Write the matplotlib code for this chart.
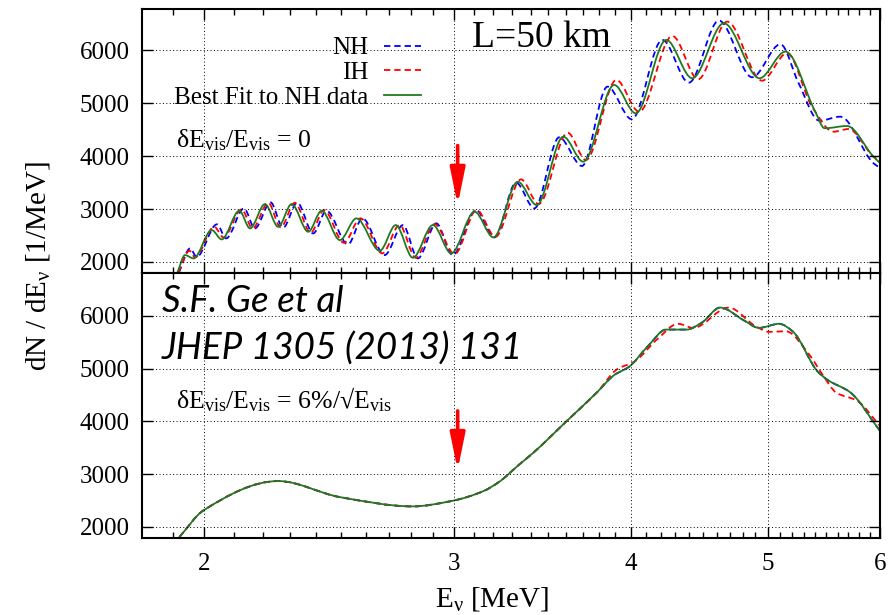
import numpy as np
import matplotlib
matplotlib.use("Agg")
import matplotlib.pyplot as plt
from matplotlib.path import Path
from matplotlib.patches import PathPatch
from matplotlib.lines import Line2D
from matplotlib.ticker import FixedLocator, NullFormatter, FuncFormatter

plt.rcParams['font.family'] = ['Liberation Serif', 'DejaVu Serif']
plt.rcParams['mathtext.fontset'] = 'custom'
plt.rcParams['mathtext.rm'] = 'Liberation Serif'
plt.rcParams['mathtext.it'] = 'Liberation Serif:italic'
plt.rcParams['mathtext.bf'] = 'Liberation Serif:bold'

# ---- top panel: no energy smearing (values read at peaks / troughs) ----
nh_top_e = [1.920, 1.955, 1.976, 2.042, 2.073, 2.134, 2.172, 2.228, 2.274, 2.327,
            2.388, 2.440, 2.527, 2.587, 2.682, 2.763, 2.831, 2.917, 2.996, 3.112,
            3.206, 3.321, 3.421, 3.562, 3.696, 3.853, 4.008, 4.212, 4.398, 4.618,
            4.874, 5.103, 5.257, 5.437, 5.625, 5.937, 6.0]
nh_top_n = [1800, 2257, 2098, 2711, 2446, 3013, 2635, 3127, 2647, 3119,
            2540, 2968, 2333, 2824, 2130, 2697, 2068, 2730, 2130, 2981,
            2465, 3497, 3013, 4355, 3813, 5312, 4696, 6195, 5388, 6560,
            5490, 6113, 5376, 4669, 4745, 3864, 3780]

ih_top_e = [1.918, 1.953, 1.971, 2.033, 2.064, 2.126, 2.164, 2.220, 2.265, 2.318,
            2.378, 2.431, 2.510, 2.579, 2.672, 2.748, 2.821, 2.909, 3.005, 3.115,
            3.211, 3.348, 3.445, 3.611, 3.720, 3.909, 4.056, 4.281, 4.465, 4.680,
            4.953, 5.158, 5.372, 5.564, 5.701, 5.937, 6.0]
ih_top_n = [1800, 2212, 2087, 2665, 2465, 2994, 2635, 3119, 2654, 3119,
            2552, 2981, 2363, 2824, 2163, 2697, 2080, 2716, 2149, 2981,
            2476, 3561, 3094, 4442, 3926, 5439, 4839, 6270, 5452, 6541,
            5425, 5943, 4934, 4461, 4512, 3989, 3900]

fit_top_e = [1.915, 1.939, 1.966, 2.025, 2.058, 2.118, 2.155, 2.208, 2.256, 2.306,
             2.369, 2.421, 2.494, 2.562, 2.661, 2.731, 2.808, 2.901, 2.989, 3.104,
             3.201, 3.330, 3.434, 3.586, 3.704, 3.895, 4.034, 4.239, 4.422, 4.655,
             4.933, 5.145, 5.401, 5.484, 5.686, 5.937, 6.0]
fit_top_n = [1800, 2130, 2068, 2603, 2427, 2968, 2635, 3094, 2665, 3094,
             2571, 2968, 2414, 2824, 2212, 2697, 2080, 2697, 2163, 2949,
             2465, 3516, 3076, 4367, 3895, 5344, 4809, 6195, 5471, 6510,
             5471, 5974, 4839, 4526, 4569, 3989, 3870]

# ---- bottom panel: 6%/sqrt(E) resolution ----
fit_bot_e = [1.921, 1.998, 2.256, 2.494, 2.808, 2.989, 3.150, 3.232, 3.339, 3.414,
             3.607, 3.789, 3.894, 3.991, 4.113, 4.239, 4.381, 4.490, 4.627, 4.809,
             4.929, 5.093, 5.205, 5.424, 5.514, 5.714, 6.0]
fit_bot_n = [1806, 2313, 2869, 2565, 2389, 2490, 2680, 2858, 3186, 3402,
             4011, 4556, 4877, 5038, 5423, 5742, 5742, 5871, 6159, 5917,
             5774, 5852, 5710, 4941, 4782, 4556, 3820]
nh_bot_e = fit_bot_e
nh_bot_n = fit_bot_n

ih_bot_e = [1.921, 1.998, 2.256, 2.494, 2.808, 2.989, 3.150, 3.232, 3.339, 3.414,
            3.607, 3.789, 3.915, 4.024, 4.181, 4.321, 4.429, 4.691, 4.902, 5.010,
            5.148, 5.350, 5.468, 5.589, 5.776, 6.0]
ih_bot_n = [1806, 2313, 2869, 2565, 2389, 2490, 2680, 2858, 3186, 3402,
            4011, 4556, 4992, 5133, 5569, 5852, 5774, 6159, 5806, 5698,
            5710, 5262, 4877, 4545, 4397, 3916]

arrow_e = 3.02
arrow_from, arrow_to = 4200, 3075

BLUE = '#0000ff'
RED = '#ff0000'
GREEN = '#217a21'


def smooth_path(x, y):
    # monotone cubic through the read points, drawn as bezier segments (log-x)
    x = np.asarray(x, float)
    y = np.asarray(y, float)
    u = np.log10(x)
    h = np.diff(u)
    d = np.diff(y) / h
    m = np.zeros_like(y)
    m[0], m[-1] = d[0], d[-1]
    for i in range(1, len(y) - 1):
        if d[i - 1] * d[i] > 0:
            w1 = 2 * h[i] + h[i - 1]
            w2 = h[i] + 2 * h[i - 1]
            m[i] = (w1 + w2) / (w1 / d[i - 1] + w2 / d[i])
    verts = [(x[0], y[0])]
    codes = [Path.MOVETO]
    for i in range(len(h)):
        verts += [(10 ** (u[i] + h[i] / 3), y[i] + m[i] * h[i] / 3),
                  (10 ** (u[i + 1] - h[i] / 3), y[i + 1] - m[i + 1] * h[i] / 3),
                  (x[i + 1], y[i + 1])]
        codes += [Path.CURVE4] * 3
    return Path(verts, codes)


def draw(ax, x, y, color, dashed):
    ls = (0, (3.5, 2.2)) if dashed else '-'
    ax.add_patch(PathPatch(smooth_path(x, y), fill=False, edgecolor=color,
                           linewidth=1.3, linestyle=ls, transform=ax.transData))


W, H = 893, 615
fig = plt.figure(figsize=(W / 100, H / 100), dpi=100)
ax1 = fig.add_axes([142 / W, 1 - 273 / H, 738 / W, 264 / H])
ax2 = fig.add_axes([142 / W, 1 - 537.5 / H, 738 / W, 264.5 / H])

minor = [v for v in np.round(np.arange(1.9, 6.0, 0.1), 1) if v % 1 != 0]
for ax in (ax1, ax2):
    ax.set_xscale('log')
    ax.set_xlim(1.808, 6.0)
    ax.xaxis.set_major_locator(FixedLocator([2, 3, 4, 5, 6]))
    ax.xaxis.set_minor_locator(FixedLocator(minor))
    ax.xaxis.set_minor_formatter(NullFormatter())
    ax.xaxis.set_major_formatter(FuncFormatter(lambda v, p: '%d' % round(v)))
    ax.yaxis.set_major_locator(FixedLocator([2000, 3000, 4000, 5000, 6000]))
    ax.tick_params(which='both', direction='in', top=True, right=True,
                   labelsize=18, width=1.0)
    ax.tick_params(which='major', length=8)
    ax.tick_params(which='minor', length=4.5)
    ax.tick_params(axis='y', pad=9)
    ax.tick_params(axis='x', pad=11)
    ax.grid(True, which='major', color='black', linestyle=(0, (1, 2.5)), linewidth=0.7)
    for s in ax.spines.values():
        s.set_linewidth(1.5)
    ax.annotate('', xy=(arrow_e, arrow_to), xytext=(arrow_e, arrow_from),
                arrowprops=dict(arrowstyle='-|>,head_width=0.45,head_length=2.2',
                                color=RED, lw=2.6, shrinkA=0, shrinkB=0,
                                mutation_scale=10))

ax1.set_ylim(1792, 6779)
ax2.set_ylim(1799, 6815)
ax1.tick_params(labelbottom=False)

draw(ax1, nh_top_e, nh_top_n, BLUE, True)
draw(ax1, ih_top_e, ih_top_n, RED, True)
draw(ax1, fit_top_e, fit_top_n, GREEN, False)
draw(ax2, nh_bot_e, nh_bot_n, BLUE, True)
draw(ax2, ih_bot_e, ih_bot_n, RED, True)
draw(ax2, fit_bot_e, fit_bot_n, GREEN, False)

handles = [Line2D([], [], color=BLUE, lw=1.3, ls=(0, (3.5, 2.2))),
           Line2D([], [], color=RED, lw=1.3, ls=(0, (3.5, 2.2))),
           Line2D([], [], color=GREEN, lw=1.3)]
fig.legend(handles, ['NH', 'IH', 'Best Fit to NH data'], loc='upper right',
           bbox_to_anchor=(421 / W, 1 - 37 / H), frameon=False, fontsize=18,
           markerfirst=False, handlelength=1.5, handletextpad=0.6,
           labelspacing=0.08, borderpad=0, borderaxespad=0)

fig.text(472 / W, 1 - 47 / H, 'L=50 km', fontsize=27, va='baseline')
fig.text(176 / W, 1 - 147 / H,
         r'$\mathrm{δE_{vis}/E_{vis}}$ = 0', fontsize=18.5, va='baseline')
fig.text(176 / W, 1 - 408 / H,
         r'$\mathrm{δE_{vis}/E_{vis}}$ = 6%/√$\mathrm{E_{vis}}$',
         fontsize=18.5, va='baseline')
fig.text(162 / W, 1 - 312 / H, 'S.F. Ge et al', fontsize=26.5, va='baseline',
         family=['Lato', 'DejaVu Sans'], style='italic')
fig.text(162 / W, 1 - 360 / H, 'JHEP 1305 (2013) 131', fontsize=26.5, va='baseline',
         family=['Lato', 'DejaVu Sans'], style='italic')

fig.text(38 / W, 1 - 266 / H, r'dN / dE$_\mathrm{ν}$ [1/MeV]', fontsize=21,
         rotation=90, ha='center', va='center')
fig.text(492 / W, 1 - 606.5 / H, r'E$_\mathrm{ν}$ [MeV]', fontsize=21,
         ha='center', va='baseline')

fig.savefig('out.png', dpi=100)
